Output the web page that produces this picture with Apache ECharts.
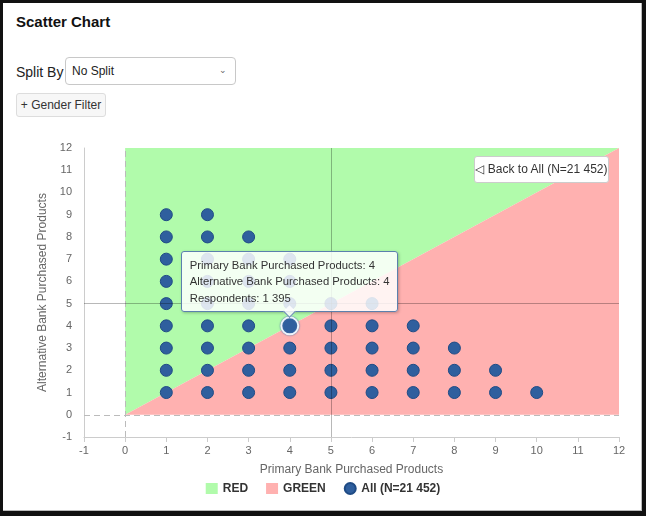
<!DOCTYPE html>
<html>
<head>
<meta charset="utf-8">
<script src="https://cdn.jsdelivr.net/npm/echarts@6/dist/echarts.min.js"></script>
<style>
  body { margin: 0; font-family: "Liberation Sans", Arial, sans-serif; color: #222; }
  #frame { position: absolute; left: 0; top: 0; width: 646px; height: 516px; box-sizing: border-box;
    border-style: solid; border-color: #111; border-width: 3px 4px 5px 3px; background: #fff; }
  #inner { position: absolute; left: 0; top: 0; right: 0; bottom: 0; border-right: 1px solid #bbb; border-bottom: 1px solid #bbb; }
  h3 { position: absolute; left: 13px; top: 10px; margin: 0; font-size: 15px; font-weight: bold; color: #111; }
  .split { position: absolute; left: 13px; top: 61px; font-size: 14px; color: #222; }
  .select { position: absolute; left: 62px; top: 54px; width: 171px; height: 28px; box-sizing: border-box;
    border: 1px solid #c8c8c8; border-radius: 4px; font-size: 12px; line-height: 26px; padding-left: 6px; color: #222; }
  .select span { position: absolute; right: 8px; top: -1px; font-size: 9px; color: #666; }
  .btn { position: absolute; left: 13px; top: 90px; width: 90px; height: 24px; box-sizing: border-box;
    border: 1px solid #ddd; border-radius: 3px; background: #f7f7f7; font-size: 12px; line-height: 22px; text-align: center; color: #333; }
  #back { position: absolute; left: 471px; top: 153px; width: 135px; height: 27px; box-sizing: border-box;
    border: 1px solid #ccc; border-radius: 3px; background: #fff; font-size: 12px; line-height: 25px; text-align: center; color: #333; z-index: 5; }
  #main { position: absolute; left: -3px; top: 127px; width: 646px; height: 380px; }
  #tip { position: absolute; z-index: 6; padding: 5px 8px; border: 1px solid #5b80ad; border-radius: 3px;
    background: rgba(255,255,255,0.84); box-shadow: 1px 1px 3px rgba(0,0,0,0.25);
    font-size: 11.3px; line-height: 16.5px; color: #333; white-space: nowrap; }
  #tip::after { content: ""; position: absolute; left: 50%; bottom: -5px; width: 8px; height: 8px; margin-left: -5px;
    background: rgba(255,255,255,0.84); border-right: 1px solid #5b80ad; border-bottom: 1px solid #5b80ad;
    transform: rotate(45deg); }
</style>
</head>
<body>
<div id="frame">
  <div id="inner">
    <h3>Scatter Chart</h3>
    <div class="split">Split By</div>
    <div class="select">No Split<span>&#8964;</span></div>
    <div class="btn">+ Gender Filter</div>
    <div id="main"></div>
    <div id="back">&#9665; Back to All (N=21 452)</div>
    <div id="tip"></div>
  </div>
</div>
<script>
// points: [primary bank products, alternative bank products]
const points = [
  [1, 1], [1, 2], [1, 3], [1, 4], [1, 5], [1, 6], [1, 7], [1, 8], [1, 9],
  [2, 1], [2, 2], [2, 3], [2, 4], [2, 5], [2, 6], [2, 7], [2, 8], [2, 9],
  [3, 1], [3, 2], [3, 3], [3, 4], [3, 5], [3, 6], [3, 7], [3, 8],
  [4, 1], [4, 2], [4, 3], [4, 4], [4, 5], [4, 6], [4, 7],
  [5, 1], [5, 2], [5, 3], [5, 4], [5, 5],
  [6, 1], [6, 2], [6, 3], [6, 4], [6, 5],
  [7, 1], [7, 2], [7, 3], [7, 4],
  [8, 1], [8, 2], [8, 3],
  [9, 1], [9, 2],
  [10, 1]
];
const selected = [4, 4];
const respondents = { '4,4': 1395 };
const redZone = [[0, 0], [0, 12], [12, 12]];
const greenZone = [[0, 0], [12, 12], [12, 0]];
const refLinesX = [0, 5];
const refLinesY = [0, 5];
const legendNames = ['RED', 'GREEN', 'All (N=21 452)'];

const myChart = echarts.init(document.querySelector('#main'));
const labelColor = '#666';
const fmt = n => String(n).replace(/\B(?=(\d{3})+(?!\d))/g, ' ');

function zoneRender(zone) {
  return function (params, api) {
    if (params.dataIndex !== 0) return null;
    return {
      type: 'polygon',
      shape: { points: zone.map(p => api.coord(p)) },
      style: { fill: api.visual('color') },
      silent: true
    };
  };
}

const scatterData = points.map(p => {
  if (p[0] === selected[0] && p[1] === selected[1]) {
    return {
      value: p, symbolSize: 17,
      itemStyle: { color: '#2f5f9e', borderColor: '#eef4fb', borderWidth: 2, shadowColor: '#4d76aa', shadowBlur: 2 }
    };
  }
  return p;
});

const option = {
  animation: false,
  textStyle: { fontFamily: 'Liberation Sans, Arial, sans-serif' },
  grid: { left: 84, right: 27, top: 18, bottom: 73 },
  legend: {
    bottom: 10,
    left: 'center',
    itemWidth: 12,
    itemHeight: 11,
    itemGap: 18,
    selectedMode: false,
    textStyle: { fontWeight: 'bold', fontSize: 12, color: '#333' },
    data: [
      { name: legendNames[0], icon: 'rect' },
      { name: legendNames[1], icon: 'rect' },
      { name: legendNames[2], icon: 'circle' }
    ]
  },
  xAxis: {
    type: 'value',
    min: -1, max: 12, interval: 1,
    name: 'Primary Bank Purchased Products',
    nameLocation: 'middle',
    nameGap: 27,
    nameTextStyle: { color: labelColor, fontSize: 12 },
    splitLine: { show: false },
    axisLine: { onZero: false, lineStyle: { color: '#ccc' } },
    axisTick: { show: true, length: 5, lineStyle: { color: '#ccc' } },
    axisLabel: { color: labelColor, fontSize: 11, margin: 8 }
  },
  yAxis: {
    type: 'value',
    min: -1, max: 12, interval: 1,
    name: 'Alternative Bank Purchased Products',
    nameLocation: 'middle',
    nameGap: 26,
    nameTextStyle: { color: labelColor, fontSize: 12 },
    splitLine: { show: false },
    axisLine: { show: true, onZero: false, lineStyle: { color: '#ccc' } },
    axisTick: { show: false },
    axisLabel: { color: labelColor, fontSize: 11, margin: 12 }
  },
  series: [
    {
      name: legendNames[0],
      type: 'custom',
      renderItem: zoneRender(redZone),
      itemStyle: { color: '#b1fbab' },
      data: redZone,
      silent: true,
      z: 1
    },
    {
      name: legendNames[1],
      type: 'custom',
      renderItem: zoneRender(greenZone),
      itemStyle: { color: '#ffb1b0' },
      data: greenZone,
      silent: true,
      z: 1
    },
    {
      name: legendNames[2],
      type: 'scatter',
      symbolSize: 12,
      itemStyle: { color: '#2f5f9e', borderColor: '#1f4b85', borderWidth: 1, opacity: 1 },
      emphasis: { disabled: true },
      data: scatterData,
      z: 3,
      markLine: {
        silent: true,
        symbol: 'none',
        label: { show: false },
        data: [
          { xAxis: refLinesX[0], lineStyle: { color: '#bbb', type: [6, 4], width: 1 } },
          { yAxis: refLinesY[0], lineStyle: { color: '#bbb', type: [6, 4], width: 1 } },
          { xAxis: refLinesX[1], lineStyle: { color: 'rgba(0,0,0,0.28)', type: 'solid', width: 1 } },
          { yAxis: refLinesY[1], lineStyle: { color: 'rgba(0,0,0,0.28)', type: 'solid', width: 1 } }
        ]
      }
    }
  ]
};

myChart.setOption(option, true);

// hover tooltip for the selected point, placed through the chart's own scale
const tip = document.querySelector('#tip');
tip.innerHTML = 'Primary Bank Purchased Products: ' + selected[0] + '<br/>' +
  'Alternative Bank Purchased Products: ' + selected[1] + '<br/>' +
  'Respondents: ' + fmt(respondents[selected[0] + ',' + selected[1]]);
const px = myChart.convertToPixel({ gridIndex: 0 }, selected);
const main = document.querySelector('#main');
tip.style.left = (main.offsetLeft + px[0] - tip.offsetWidth / 2) + 'px';
tip.style.top = (main.offsetTop + px[1] - 13 - tip.offsetHeight) + 'px';
</script>
</body>
</html>
